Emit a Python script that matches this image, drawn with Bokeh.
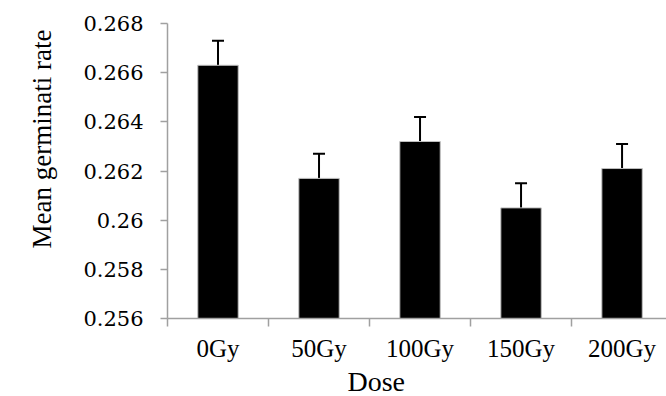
import numpy as np
from bokeh.plotting import figure
from bokeh.models import (ColumnDataSource, Range1d, FixedTicker, Whisker,
                          TeeHead, Title)
from bokeh.embed import file_html
from bokeh.resources import INLINE

doses = ["0Gy", "50Gy", "100Gy", "150Gy", "200Gy"]
means = [0.2663, 0.2617, 0.2632, 0.2605, 0.2621]
errors = [0.0010, 0.0010, 0.0010, 0.0010, 0.0010]
y_ticks = [0.256, 0.258, 0.26, 0.262, 0.264, 0.266, 0.268]
y_tick_labels = ["0.256", "0.258", "0.26", "0.262", "0.264", "0.266", "0.268"]

positions = [i + 0.5 for i in range(len(doses))]
boundaries = [float(i) for i in range(len(doses))]

src = ColumnDataSource(dict(
    x=positions,
    mean=means,
    upper=[m + e for m, e in zip(means, errors)],
))

p = figure(width=666, height=396, output_backend="svg", toolbar_location=None,
           x_range=Range1d(0, 4.94), y_range=Range1d(0.256, 0.268),
           min_border_left=167, min_border_right=0, min_border_top=23,
           min_border_bottom=78)
p.outline_line_color = None
p.xgrid.visible = False
p.ygrid.visible = False
p.background_fill_color = "white"
p.border_fill_color = "white"

p.vbar(x="x", top="mean", bottom=0, width=0.4, source=src,
       fill_color="black", line_color="#BFBFBF", line_width=1)

w = Whisker(source=src, base="x", lower="mean", upper="upper",
            dimension="height", line_color="black", line_width=2,
            lower_head=None,
            upper_head=TeeHead(size=12, line_color="black", line_width=2))
p.add_layout(w)

axis_color = "#A0A0A0"

# x axis
p.xaxis.ticker = FixedTicker(ticks=positions, minor_ticks=boundaries)
p.xaxis.major_label_overrides = {pos: d for pos, d in zip(positions, doses)}
p.xaxis.major_tick_out = 0
p.xaxis.major_tick_in = 0
p.xaxis.minor_tick_out = 8
p.xaxis.minor_tick_in = 0
p.xaxis.minor_tick_line_color = axis_color
p.xaxis.minor_tick_line_width = 1.5
p.xaxis.axis_line_color = axis_color
p.xaxis.axis_line_width = 1.5
p.xaxis.major_label_text_font = "Liberation Serif"
p.xaxis.major_label_text_font_size = "25px"
p.xaxis.major_label_text_color = "black"
p.xaxis.major_label_standoff = 8

# y axis
p.yaxis.ticker = FixedTicker(ticks=y_ticks)
p.yaxis.major_label_overrides = {t: s for t, s in zip(y_ticks, y_tick_labels)}
p.yaxis.minor_tick_line_color = None
p.yaxis.major_tick_out = 7
p.yaxis.major_tick_in = 0
p.yaxis.major_tick_line_color = axis_color
p.yaxis.major_tick_line_width = 1.5
p.yaxis.axis_line_color = axis_color
p.yaxis.axis_line_width = 1.5
p.yaxis.major_label_text_font = "DejaVu Serif"
p.yaxis.major_label_text_font_size = "21px"
p.yaxis.major_label_text_color = "black"
p.yaxis.major_label_standoff = 17

ylab = Title(text="Mean germinati rate", align="left", offset=70,
             text_font="Liberation Serif", text_font_size="27px",
             text_font_style="normal", text_color="black", standoff=48)
xlab = Title(text="Dose", align="left", offset=180,
             text_font="Liberation Serif", text_font_size="28px",
             text_font_style="normal", text_color="black", standoff=-2)
p.add_layout(ylab, "left")
p.add_layout(xlab, "below")

open("out.html", "w").write(file_html(p, INLINE))
